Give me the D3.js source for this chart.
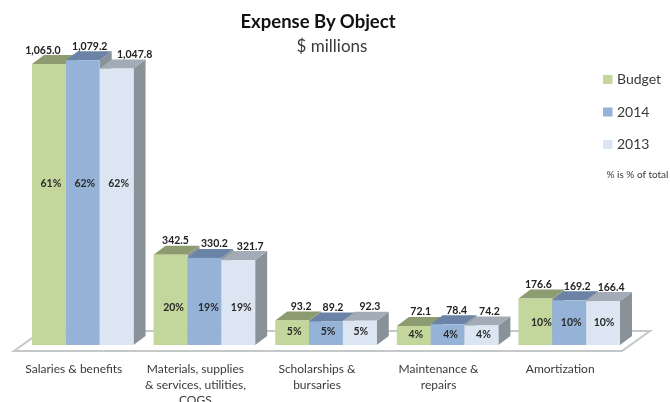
<!DOCTYPE html>
<html>
<head>
<meta charset="utf-8">
<script src="https://cdn.jsdelivr.net/npm/d3@7"></script>
<style>
  html, body { margin: 0; padding: 0; background: #fff; }
  svg { display: block; filter: blur(0.45px); }
  text { font-family: Lato, "Open Sans", sans-serif; fill: #3a3a3a; }
</style>
</head>
<body>
<div id="d3-container"></div>
<script>
// values
const categories = ["Salaries & benefits", "Materials, supplies & services, utilities, COGS", "Scholarships & bursaries", "Maintenance & repairs", "Amortization"];
const seriesNames = ["Budget", "2014", "2013"];
const budget = [1065.0, 342.5, 93.2, 72.1, 176.6];
const y2014 = [1079.2, 330.2, 89.2, 78.4, 169.2];
const y2013 = [1047.8, 321.7, 92.3, 74.2, 166.4];
const pctBudget = ["61%", "20%", "5%", "4%", "10%"];
const pct2014 = ["62%", "19%", "5%", "4%", "10%"];
const pct2013 = ["62%", "19%", "5%", "4%", "10%"];
const catLines = [["Salaries & benefits"], ["Materials, supplies", "& services, utilities,", "COGS"], ["Scholarships &", "bursaries"], ["Maintenance &", "repairs"], ["Amortization"]];

const values = [budget, y2014, y2013];
const pcts = [pctBudget, pct2014, pct2013];

const colors = { "Budget": "#c3d69b", "2014": "#95b3d7", "2013": "#dce6f2" };
const topColors = { "Budget": "#8c9c70", "2014": "#6a83a6", "2013": "#a3acb6" };
const sideColor = "#8a9299";

const width = 670, height = 402;
const baseY = 345, dx = 12, dy = 9;

// hand placed label nudges, the original labels were dragged around (group, then series)
const valueNudge = [[-6, 7, 18], [5, 10, 12], [9, 7, 10], [7, 9, 8], [3, 8, 8]];
const pctNudge = [[2, 2, 2], [3, 4, 3], [2, 2, 1], [2, 3, 2], [6, 2, 1]];
const pctBaseline = [187, 311, 335, 338, 326];

const svg = d3.select("#d3-container").append("svg")
  .attr("width", width)
  .attr("height", height);

const x0 = d3.scaleBand().domain(categories).range([32, 620]).paddingInner(0.165);
const x1 = d3.scaleBand().domain(seriesNames).range([0, x0.bandwidth()]);
const y = d3.scaleLinear().domain([0, 1065]).range([baseY, 64]);

// floor
svg.append("polygon")
  .attr("points", "14,351 622,351 650,331 42,331")
  .attr("fill", "#fff")
  .attr("stroke", "#c4c8c8")
  .attr("stroke-width", 2);

const groups = svg.selectAll("g.group")
  .data(categories)
  .enter().append("g")
  .attr("class", "group")
  .attr("transform", d => `translate(${x0(d)},0)`);

groups.each(function (cat, i) {
  const g = d3.select(this);
  seriesNames.forEach((s, j) => {
    const v = values[j][i];
    const left = x1(s), right = left + x1.bandwidth(), top = y(v);
    // side face, then top face, then front face
    g.append("polygon")
      .attr("points", [[right, baseY], [right + dx, baseY - dy], [right + dx, top - dy], [right, top]].join(" "))
      .attr("fill", sideColor);
    g.append("polygon")
      .attr("points", [[left, top], [left + dx, top - dy], [right + dx, top - dy], [right, top]].join(" "))
      .attr("fill", topColors[s]);
    g.append("rect")
      .attr("x", left)
      .attr("y", top)
      .attr("width", x1.bandwidth())
      .attr("height", baseY - top)
      .attr("fill", colors[s]);
  });
});

// labels go on top of every face
groups.each(function (cat, i) {
  const g = d3.select(this);
  seriesNames.forEach((s, j) => {
    const v = values[j][i];
    const mid = x1(s) + x1.bandwidth() / 2;
    g.append("text")
      .attr("x", mid + valueNudge[i][j])
      .attr("y", y(v) - 10.5)
      .attr("text-anchor", "middle")
      .style("font-size", "10.5px")
      .style("font-weight", 700)
      .style("fill", "#222")
      .text(d3.format(",.1f")(v));
    g.append("text")
      .attr("x", mid + pctNudge[i][j])
      .attr("y", pctBaseline[i])
      .attr("text-anchor", "middle")
      .style("font-size", "10.5px")
      .style("font-weight", 700)
      .style("fill", "#2a2a2a")
      .text(pcts[j][i]);
  });
  const t = g.append("text")
    .attr("x", x0.bandwidth() / 2 - 9)
    .attr("y", 373)
    .attr("text-anchor", "middle")
    .style("font-size", "12px");
  catLines[i].forEach((line, k) => {
    t.append("tspan")
      .attr("x", x0.bandwidth() / 2 - 9)
      .attr("dy", k == 0 ? 0 : 15.5)
      .text(line);
  });
});

// title
svg.append("text")
  .attr("x", 318).attr("y", 28)
  .attr("text-anchor", "middle")
  .style("font-size", "18.5px").style("font-weight", 700)
  .style("fill", "#111")
  .text("Expense By Object");
svg.append("text")
  .attr("x", 332).attr("y", 52)
  .attr("text-anchor", "middle")
  .style("font-size", "17px")
  .text("$ millions");

// legend
const legend = svg.selectAll("g.legend")
  .data(seriesNames)
  .enter().append("g")
  .attr("class", "legend")
  .attr("transform", (d, i) => `translate(603,${79.5 + i * 32.5})`);
legend.append("rect")
  .attr("y", -4.5).attr("width", 9.5).attr("height", 9)
  .attr("fill", d => colors[d]);
legend.append("text")
  .attr("x", 14).attr("y", 4.5)
  .style("font-size", "14px")
  .text(d => d);

svg.append("text")
  .attr("x", 606.5).attr("y", 178)
  .style("font-size", "10px")
  .text("% is % of total");
</script>
</body>
</html>
